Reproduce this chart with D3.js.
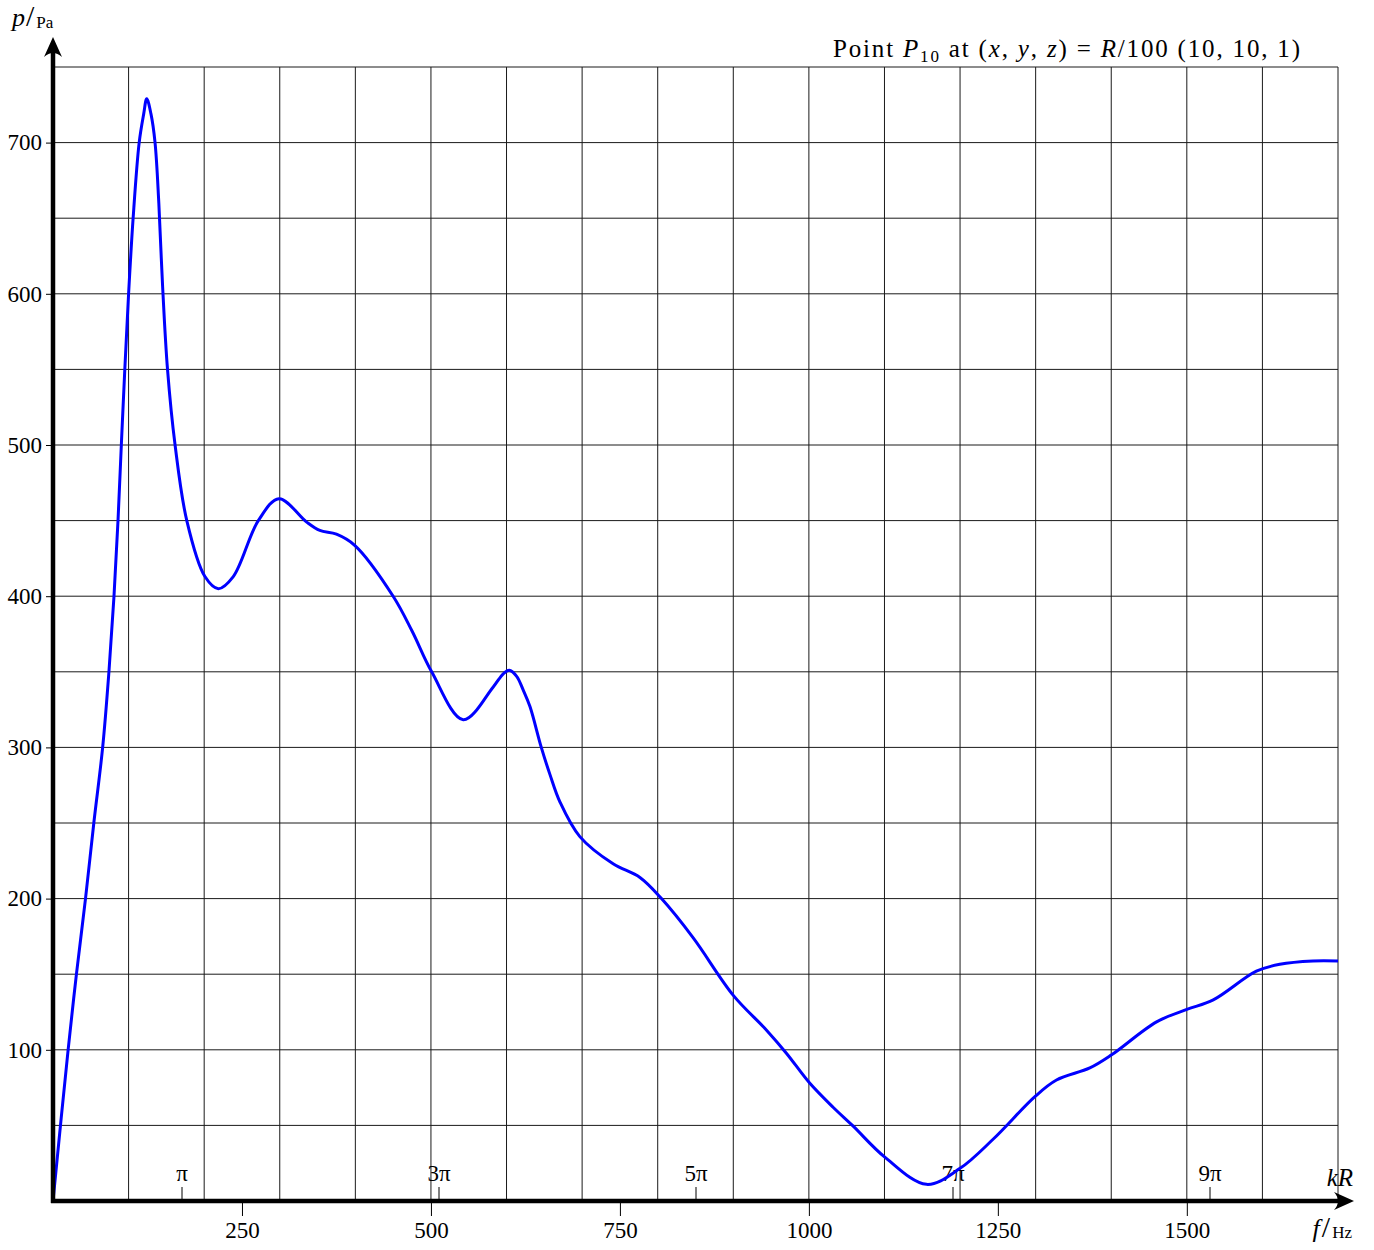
<!DOCTYPE html>
<html>
<head>
<meta charset="utf-8">
<script src="https://cdn.jsdelivr.net/npm/d3@7"></script>
<style>
  body { margin: 0; background: #fff; }
  text { font-family: "Liberation Serif", "DejaVu Serif", serif; fill: #000; }
  .it { font-style: italic; }
</style>
</head>
<body>
<svg width="1374" height="1250"></svg>
<script>
// frequency in Hz, pressure in Pa
var freq = [0, 20, 31, 43, 54, 65.7, 74, 80.7, 86, 90.4, 95, 100, 106, 114, 120, 124, 129.6, 135, 140, 145,
    151.5, 161.5, 177, 201, 218.7, 238.5, 271.6, 299, 335.6, 353, 375, 399.5, 450, 475, 501, 542.7,
    582.4, 595.7, 603.6, 613.4, 622, 631, 646, 657.5, 670.6, 697, 741, 776.5, 805, 847, 900, 944, 970.5,
    1001, 1032, 1058.6, 1100.5, 1155.7, 1200, 1244, 1299, 1327.6, 1371.7, 1400, 1460, 1500, 1535, 1592,
    1623, 1667, 1700];
var pressure = [0, 100, 150, 200, 250, 300, 350, 400, 450, 500, 550, 600, 650, 700, 719, 729, 719, 700, 660, 605,
    550, 500, 450, 413, 405, 413, 450, 464.5, 449, 443.5, 441, 433.5, 400, 377, 350, 318.3,
    340, 348.7, 351, 347, 338, 327, 300, 282, 264, 241, 223, 214, 200, 174, 136, 113, 97.6,
    78, 62, 49.5, 29, 11, 21.6, 41, 69, 80, 88, 96.5, 118.5, 126.7, 133, 152,
    156.6, 158.8, 158.8];

var yTicks = [100, 200, 300, 400, 500, 600, 700];
var fTicks = [250, 500, 750, 1000, 1250, 1500];
var kRTicks = [170, 510, 850, 1190, 1530];      // kR = pi, 3pi, ... (f = 170 Hz at kR = pi)
var kRLabels = ["\u03c0", "3\u03c0", "5\u03c0", "7\u03c0", "9\u03c0"];

var svg = d3.select("svg");

var x = d3.scaleLinear().domain([0, 1700]).range([53, 1338]);
var y = d3.scaleLinear().domain([0, 750]).range([1201, 67]);

// grid
var grid = svg.append("g").attr("stroke", "#1a1a1a").attr("stroke-width", 1);
grid.selectAll("line.v")
    .data(d3.range(100, 1701, 100))
    .enter().append("line")
    .attr("x1", function (d) { return x(d); })
    .attr("x2", function (d) { return x(d); })
    .attr("y1", y(0))
    .attr("y2", y(750));
grid.selectAll("line.h")
    .data(d3.range(50, 751, 50))
    .enter().append("line")
    .attr("x1", x(0))
    .attr("x2", x(1700))
    .attr("y1", function (d) { return y(d); })
    .attr("y2", function (d) { return y(d); });

// y axis ticks and labels
var yAxis = svg.append("g")
    .attr("transform", "translate(" + x(0) + ",0)")
    .call(d3.axisLeft(y).tickValues(yTicks).tickSize(7).tickPadding(4).tickFormat(d3.format("d")));
yAxis.select(".domain").remove();
yAxis.selectAll("text").attr("font-size", 23).attr("font-family", "Liberation Serif").attr("fill", "#000");

// f axis ticks and labels
var fAxis = svg.append("g")
    .attr("transform", "translate(0," + y(0) + ")")
    .call(d3.axisBottom(x).tickValues(fTicks).tickSize(15).tickPadding(6).tickFormat(d3.format("d")));
fAxis.select(".domain").remove();
fAxis.selectAll("text").attr("font-size", 23).attr("font-family", "Liberation Serif").attr("fill", "#000");

// kR axis ticks and labels
var kAxis = svg.append("g")
    .attr("transform", "translate(0," + (y(0) - 2) + ")")
    .call(d3.axisTop(x).tickValues(kRTicks)
        .tickFormat(function (d, i) { return kRLabels[i]; })
        .tickSize(12).tickPadding(6));
kAxis.select(".domain").remove();
kAxis.selectAll("text").attr("font-size", 23).attr("font-family", "Liberation Serif").attr("fill", "#000");

// curve
var line = d3.line()
    .x(function (d, i) { return x(freq[i]); })
    .y(function (d) { return y(d); })
    .curve(d3.curveCatmullRom.alpha(0.5));

svg.append("path")
    .datum(pressure)
    .attr("fill", "none")
    .attr("stroke", "#0000ff")
    .attr("stroke-width", 3)
    .attr("stroke-linejoin", "round")
    .attr("d", line);

// thick axes with arrows
svg.append("line")
    .attr("x1", x(0)).attr("x2", x(0))
    .attr("y1", y(0) + 2).attr("y2", 44)
    .attr("stroke", "#000").attr("stroke-width", 4.5);
svg.append("path")
    .attr("d", "M53,37 L44,57 Q53,49 62,57 Z")
    .attr("fill", "#000");

svg.append("line")
    .attr("x1", x(0) - 2).attr("x2", 1346)
    .attr("y1", y(0)).attr("y2", y(0))
    .attr("stroke", "#000").attr("stroke-width", 4.5);
svg.append("path")
    .attr("d", "M1354,1201 L1334,1192 Q1342,1201 1334,1210 Z")
    .attr("fill", "#000");

// axis names
var pl = svg.append("text").attr("x", 12).attr("y", 26).attr("font-size", 26);
pl.append("tspan").attr("class", "it").text("p");
pl.append("tspan").attr("font-size", 30).attr("dx", 1).text("/");
pl.append("tspan").attr("font-size", 17).attr("dx", 2).attr("dy", 2).text("Pa");

var fl = svg.append("text").attr("x", 1352).attr("y", 1237).attr("text-anchor", "end").attr("font-size", 26);
fl.append("tspan").attr("class", "it").text("f");
fl.append("tspan").attr("font-size", 30).attr("dx", 2).text("/");
fl.append("tspan").attr("font-size", 17).attr("dx", 2).attr("dy", 1).text("Hz");

svg.append("text").attr("x", 1353).attr("y", 1186).attr("text-anchor", "end")
    .attr("font-size", 25).attr("class", "it").text("kR");

// title
var t = svg.append("text").attr("x", 833).attr("y", 57).attr("font-size", 25)
    .attr("textLength", 467).attr("lengthAdjust", "spacing");
t.append("tspan").text("Point ");
t.append("tspan").attr("class", "it").text("P");
t.append("tspan").attr("font-size", 17).attr("dy", 5).text("10");
t.append("tspan").attr("dy", -5).text(" at (");
t.append("tspan").attr("class", "it").text("x");
t.append("tspan").text(", ");
t.append("tspan").attr("class", "it").text("y");
t.append("tspan").text(", ");
t.append("tspan").attr("class", "it").text("z");
t.append("tspan").text(")  =  ");
t.append("tspan").attr("class", "it").text("R");
t.append("tspan").text("/100 (10, 10, 1)");
</script>
</body>
</html>
